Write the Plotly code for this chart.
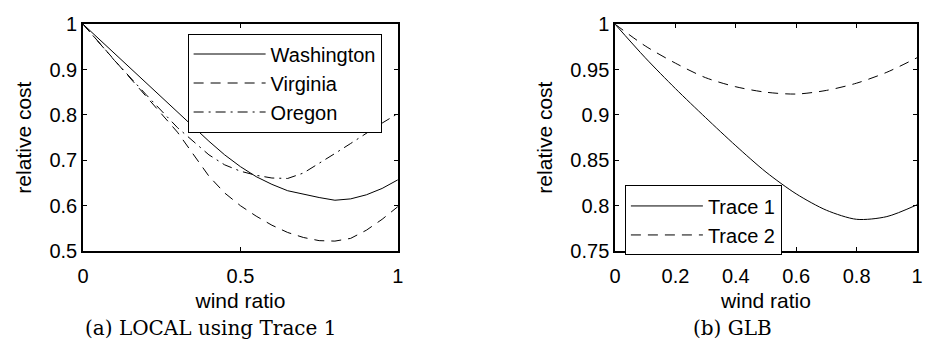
import plotly.graph_objects as go

# ---- data (left: LOCAL using Trace 1) ----
wind_left = [0, 0.1, 0.2, 0.3, 0.4, 0.45, 0.5, 0.55, 0.6, 0.65, 0.7, 0.75, 0.8, 0.85, 0.9, 0.95, 1.0]
washington = [1.0, 0.935, 0.87, 0.805, 0.742, 0.712, 0.686, 0.664, 0.647, 0.633, 0.625, 0.618, 0.612, 0.615, 0.624, 0.638, 0.657]
virginia = [1.0, 0.92, 0.84, 0.762, 0.665, 0.628, 0.600, 0.577, 0.557, 0.541, 0.530, 0.523, 0.522, 0.528, 0.546, 0.570, 0.598]
oregon = [1.0, 0.92, 0.845, 0.772, 0.712, 0.69, 0.676, 0.667, 0.661, 0.660, 0.672, 0.693, 0.715, 0.737, 0.760, 0.782, 0.803]

# ---- data (right: GLB) ----
wind_right = [0, 0.1, 0.2, 0.3, 0.4, 0.5, 0.6, 0.7, 0.8, 0.9, 1.0]
trace1 = [1.0, 0.963, 0.929, 0.897, 0.866, 0.837, 0.813, 0.795, 0.785, 0.788, 0.801]
trace2 = [1.0, 0.976, 0.957, 0.941, 0.931, 0.925, 0.923, 0.927, 0.935, 0.947, 0.963]

left_yticks = [0.5, 0.6, 0.7, 0.8, 0.9, 1]
left_xticks = [0, 0.5, 1]
right_yticks = [0.75, 0.8, 0.85, 0.9, 0.95, 1]
right_xticks = [0, 0.2, 0.4, 0.6, 0.8, 1]

W, H = 928, 354
FONT = "Liberation Sans, Arial, sans-serif"
SERIF = "DejaVu Serif, serif"
LW = 1

fig = go.Figure()
line_style = dict(color="black", width=LW)
fig.add_trace(go.Scatter(x=wind_left, y=washington, name="Washington", mode="lines",
                         line=dict(**line_style, dash="solid"), xaxis="x", yaxis="y", legend="legend"))
fig.add_trace(go.Scatter(x=wind_left, y=virginia, name="Virginia", mode="lines",
                         line=dict(**line_style, dash="10px,7px"), xaxis="x", yaxis="y", legend="legend"))
fig.add_trace(go.Scatter(x=wind_left, y=oregon, name="Oregon", mode="lines",
                         line=dict(**line_style, dash="10px,5px,2px,5px"), xaxis="x", yaxis="y", legend="legend"))
fig.add_trace(go.Scatter(x=wind_right, y=trace1, name="Trace 1", mode="lines",
                         line=dict(**line_style, dash="solid", shape="spline", smoothing=0.8),
                         xaxis="x2", yaxis="y2", legend="legend2"))
fig.add_trace(go.Scatter(x=wind_right, y=trace2, name="Trace 2", mode="lines",
                         line=dict(**line_style, dash="10px,7px", shape="spline", smoothing=0.8),
                         xaxis="x2", yaxis="y2", legend="legend2"))

ydom = [1 - 256 / H, 1 - 14 / H]
axis_common = dict(showline=True, linecolor="black", linewidth=1.5, mirror="ticks",
                   ticks="inside", ticklen=4, tickwidth=1, tickcolor="black",
                   showgrid=False, zeroline=False,
                   tickfont=dict(family=FONT, size=20, color="black"))
xtitle = dict(text="wind ratio", font=dict(family=FONT, size=21, color="black"), standoff=7)
ytitle = dict(text="relative cost", font=dict(family=FONT, size=21, color="black"), standoff=12)

fig.update_layout(
    width=W, height=H,
    margin=dict(l=0, r=0, t=0, b=0),
    paper_bgcolor="white", plot_bgcolor="white",
    font=dict(family=FONT, size=20, color="black"),
    xaxis=dict(domain=[78 / W, 397 / W], range=[0, 1], tickvals=left_xticks,
               ticktext=["0", "0.5", "1"], anchor="y", ticklabelstandoff=6,
               title=xtitle, **axis_common),
    yaxis=dict(domain=ydom, range=[0.5, 1], tickvals=left_yticks,
               ticktext=["0.5", "0.6", "0.7", "0.8", "0.9", "1"], anchor="x",
               title=ytitle, **axis_common),
    xaxis2=dict(domain=[617 / W, 923 / W], range=[0, 1], tickvals=right_xticks,
                ticktext=["0", "0.2", "0.4", "0.6", "0.8", "1"], anchor="y2", ticklabelstandoff=6,
                title=xtitle, **axis_common),
    yaxis2=dict(domain=ydom, range=[0.75, 1], tickvals=right_yticks,
                ticktext=["0.75", "0.8", "0.85", "0.9", "0.95", "1"], anchor="x2",
                title=ytitle, **axis_common),
    legend=dict(x=184 / W, y=1 - 24 / H, xanchor="left", yanchor="top",
                bgcolor="white", bordercolor="black", borderwidth=1,
                font=dict(family=FONT, size=20, color="black"), itemwidth=72, tracegroupgap=0),
    legend2=dict(x=627 / W, y=1 - 186 / H, xanchor="left", yanchor="top",
                 bgcolor="white", bordercolor="black", borderwidth=1,
                 font=dict(family=FONT, size=20, color="black"), itemwidth=72, tracegroupgap=0),
    showlegend=True,
)

fig.add_annotation(text="(a) LOCAL using Trace 1", x=207 / W, y=1 - 338 / H, xref="paper", yref="paper",
                   showarrow=False, xanchor="center", yanchor="middle",
                   font=dict(family=SERIF, size=20, color="black"))
fig.add_annotation(text="(b) GLB", x=736 / W, y=1 - 338 / H, xref="paper", yref="paper",
                   showarrow=False, xanchor="center", yanchor="middle",
                   font=dict(family=SERIF, size=20, color="black"))

fig.write_html("out.html")
